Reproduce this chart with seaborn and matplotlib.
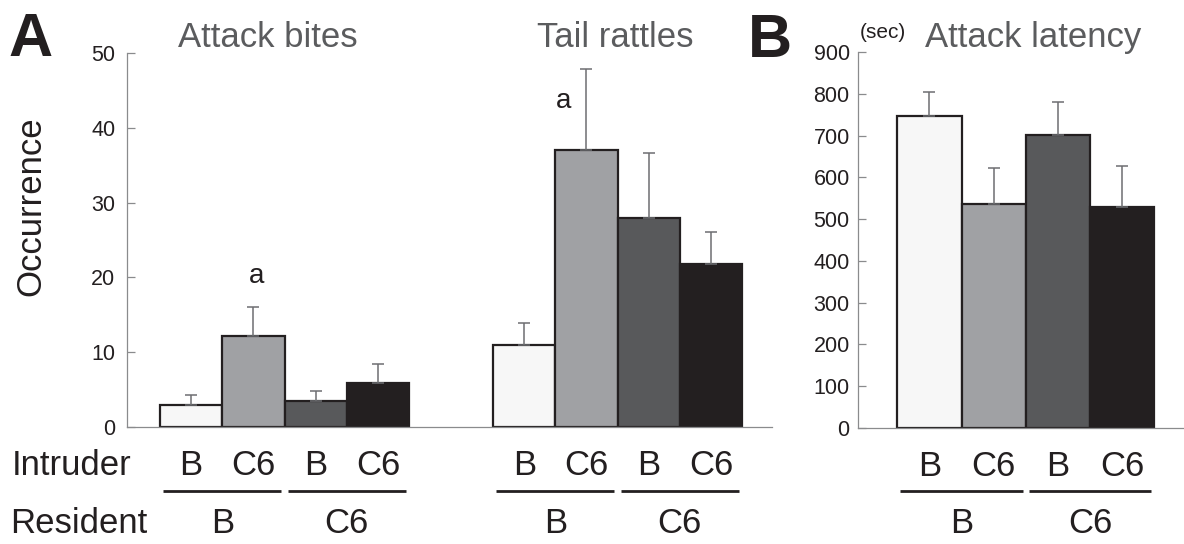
import numpy as np
import pandas as pd
import matplotlib
matplotlib.use("Agg")
import matplotlib.pyplot as plt
import matplotlib.transforms as mtransforms
import seaborn as sns

# ---------------- data ----------------
intruder = ["B", "C6", "B", "C6"]
resident = ["B", "C6"]
groups = ["B/B", "B/C6", "C6/B", "C6/C6"]   # resident/intruder

bites_mean = [2.9, 12.2, 3.5, 5.9]
bites_sem = [1.4, 3.8, 1.35, 2.5]
rattles_mean = [10.9, 37.0, 28.0, 21.8]
rattles_sem = [3.0, 10.9, 8.6, 4.3]
latency_mean = [748, 536, 701, 528]
latency_sem = [56, 87, 80, 100]

sig_bites = 19.3      # height of the "a" label (attack bites)
sig_rattles = 42.6    # height of the "a" label (tail rattles)

# ---------------- style ----------------
sns.set_style("white")
plt.rcParams["font.family"] = ["Liberation Sans", "DejaVu Sans"]

fills = ["#f7f7f7", "#a0a1a4", "#58595b", "#231f20"]
palette = dict(zip(groups, fills))
DARK = "#231f20"
TITLE = "#5b5c5e"
AXC = "#8a8b8d"
ERRC = "#6d6e71"

W, H = 1184, 544
fig = plt.figure(figsize=(W / 100, H / 100), dpi=100)


def px_axes(l, t, r, b):
    return fig.add_axes([l / W, 1 - b / H, (r - l) / W, (b - t) / H])


def fy(py):
    return 1 - py / H


def style_axes(ax, ymax, step, pad):
    ax.set_ylim(0, ymax)
    ax.set_yticks(np.arange(0, ymax + 1, step))
    for s in ["top", "right"]:
        ax.spines[s].set_visible(False)
    for s in ["left", "bottom"]:
        ax.spines[s].set_color(AXC)
        ax.spines[s].set_linewidth(0.9)
    ax.tick_params(axis="y", direction="in", length=6, width=0.9, color=AXC,
                   labelsize=15.5, labelcolor=DARK, pad=pad, left=True)
    ax.tick_params(axis="x", length=0, labelsize=25, labelcolor=DARK, pad=16)
    ax.set_xlabel("")
    ax.set_ylabel("")
    ax.set_facecolor("none")


def draw_bars(ax, pos, means, sems):
    grp = [groups[i % len(groups)] for i in range(len(pos))]
    df = pd.DataFrame({"pos": pos, "value": means, "group": grp})
    sns.barplot(data=df, x="pos", y="value", hue="group", palette=palette,
                native_scale=True, dodge=False, width=1.0, errorbar=None,
                legend=False, edgecolor=DARK, linewidth=1.6, ax=ax,
                saturation=1)
    ax.errorbar(pos, means, yerr=[np.zeros(len(means)), sems], fmt="none",
                ecolor=ERRC, elinewidth=1.1, capsize=4.5, capthick=1.1,
                zorder=5)


def group_labels(ax, pos):
    tr = mtransforms.blended_transform_factory(ax.transData, fig.transFigure)
    for k in range(2):
        c = (pos[2 * k] + pos[2 * k + 1]) / 2
        ax.plot([c - 0.95, c + 0.95], [fy(491), fy(491)], color=DARK, lw=2.0,
                transform=tr, clip_on=False, solid_capstyle="butt")
        ax.text(c, fy(533), resident[k], transform=tr, ha="center",
                va="baseline", fontsize=25, color=DARK)


# ---------------- panel A ----------------
axA = px_axes(127, 53, 772, 427)
posA1 = [0.0, 1.0, 2.0, 3.0]
posA2 = [5.35, 6.35, 7.35, 8.35]
draw_bars(axA, posA1 + posA2, bites_mean + rattles_mean, bites_sem + rattles_sem)
style_axes(axA, 50, 10, 8.5)
axA.set_xlim(-1.03, 9.33)
axA.set_xticks(posA1 + posA2, intruder + intruder)
group_labels(axA, posA1)
group_labels(axA, posA2)
axA.text(posA1[1] + 0.05, sig_bites, "a", ha="center", va="baseline",
         fontsize=20, color=DARK)
axA.text(posA2[1] - 0.37, sig_rattles, "a", ha="center", va="baseline",
         fontsize=20, color=DARK)
trA = mtransforms.blended_transform_factory(axA.transData, fig.transFigure)
axA.text(np.mean(posA1) - 0.27, fy(47), "Attack bites", transform=trA,
         ha="center", va="baseline", fontsize=25, color=TITLE)
axA.text(np.mean(posA2) - 0.03, fy(47), "Tail rattles", transform=trA,
         ha="center", va="baseline", fontsize=25, color=TITLE)

# ---------------- panel B ----------------
axB = px_axes(858, 52, 1184, 428)
posB = [0.0, 1.0, 2.0, 3.0]
draw_bars(axB, posB, latency_mean, latency_sem)
style_axes(axB, 900, 100, 6)
axB.set_xlim(-1.11, 3.96)
axB.set_xticks(posB, intruder)
group_labels(axB, posB)
trB = mtransforms.blended_transform_factory(axB.transData, fig.transFigure)
axB.text(np.mean(posB) + 0.12, fy(47), "Attack latency", transform=trB,
         ha="center", va="baseline", fontsize=25, color=TITLE)

# ---------------- figure text ----------------
fig.text(31 / W, fy(56), "A", ha="center", va="baseline", fontsize=44,
         fontweight="bold", color=DARK)
fig.text(770 / W, fy(57), "B", ha="center", va="baseline", fontsize=44,
         fontweight="bold", color=DARK)
fig.text(883 / W, fy(38), "(sec)", ha="center", va="baseline", fontsize=15,
         color=DARK)
fig.text(47 / W, fy(206), "Occurrence", rotation=90, ha="right", va="center",
         fontsize=25, color=DARK)
fig.text(12 / W, fy(475), "Intruder", ha="left", va="baseline", fontsize=25,
         color=DARK)
fig.text(10 / W, fy(533), "Resident", ha="left", va="baseline", fontsize=25,
         color=DARK)

fig.savefig("out.png", dpi=100)
